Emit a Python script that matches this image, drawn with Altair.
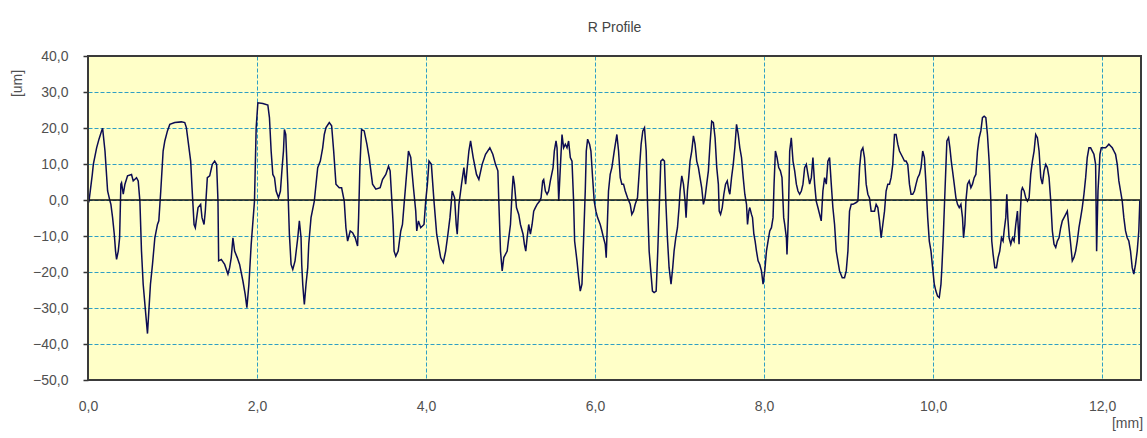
import altair as alt
import pandas as pd

# R profile trace: position along the evaluation length [mm] and height [um]
profile_mm = [
    0.000, 0.012, 0.051, 0.063, 0.102, 0.130, 0.161, 0.173, 0.201, 0.232, 0.260, 0.271, 0.291, 0.311,
    0.326, 0.338, 0.358, 0.374, 0.389, 0.397, 0.417, 0.437, 0.468, 0.515, 0.535, 0.574, 0.594, 0.614,
    0.633, 0.653, 0.680, 0.704, 0.720, 0.739, 0.763, 0.791, 0.822, 0.838, 0.861, 0.889, 0.909, 0.940,
    0.968, 1.027, 1.105, 1.145, 1.164, 1.215, 1.231, 1.255, 1.270, 1.302, 1.333, 1.349, 1.373, 1.388,
    1.412, 1.440, 1.471, 1.499, 1.522, 1.538, 1.546, 1.577, 1.617, 1.656, 1.676, 1.695, 1.715, 1.735,
    1.766, 1.794, 1.833, 1.860, 1.880, 1.904, 1.931, 1.970, 1.990, 2.010, 2.069, 2.128, 2.147, 2.167,
    2.187, 2.207, 2.226, 2.254, 2.277, 2.297, 2.313, 2.324, 2.340, 2.364, 2.383, 2.403, 2.423, 2.450,
    2.482, 2.501,
    2.521, 2.529, 2.541, 2.553, 2.560, 2.580, 2.600, 2.612, 2.639, 2.678, 2.698, 2.718, 2.749, 2.777,
    2.796, 2.816, 2.855, 2.883, 2.907, 2.934, 2.973, 3.001, 3.032, 3.052, 3.072, 3.103, 3.131, 3.162,
    3.190, 3.202, 3.217, 3.237, 3.268, 3.300, 3.327, 3.367, 3.406, 3.457, 3.485, 3.524, 3.556, 3.575,
    3.591, 3.611, 3.622, 3.642, 3.670, 3.701, 3.721, 3.740, 3.760, 3.792, 3.819, 3.851, 3.878, 3.890,
    3.910, 3.937, 3.976, 3.996, 4.016, 4.035, 4.063, 4.094, 4.126, 4.153, 4.173, 4.204, 4.232, 4.259,
    4.283, 4.310, 4.338, 4.357, 4.369, 4.389, 4.420, 4.448, 4.468, 4.507, 4.527, 4.558, 4.597, 4.625,
    4.664, 4.704, 4.755, 4.790, 4.822, 4.850, 4.861, 4.881, 4.901, 4.920, 4.960, 4.979,
    4.999, 5.019, 5.031, 5.046, 5.070, 5.097, 5.117, 5.148, 5.164, 5.180, 5.196, 5.215, 5.235, 5.255,
    5.274, 5.294, 5.314, 5.345, 5.361, 5.380, 5.392, 5.412, 5.432, 5.451, 5.471, 5.503, 5.518, 5.538,
    5.550, 5.570, 5.589, 5.609, 5.628, 5.648, 5.668, 5.687, 5.707, 5.727, 5.746, 5.758, 5.786, 5.806,
    5.825, 5.845, 5.865, 5.884, 5.896, 5.912, 5.935, 5.951, 5.971, 5.990, 6.010, 6.030, 6.061, 6.081,
    6.100, 6.120, 6.132, 6.148, 6.159, 6.179, 6.199, 6.227, 6.246, 6.258, 6.278, 6.298, 6.317, 6.337,
    6.357, 6.384, 6.416, 6.435, 6.455, 6.475, 6.502, 6.526, 6.545, 6.565, 6.585, 6.605, 6.620, 6.640,
    6.659, 6.679, 6.699, 6.723, 6.742, 6.762, 6.778, 6.801, 6.821, 6.837, 6.856, 6.876, 6.899, 6.919,
    6.935, 6.955, 6.975, 6.994, 7.006, 7.026, 7.046, 7.065, 7.077, 7.093, 7.108, 7.124, 7.144, 7.164,
    7.183, 7.203, 7.223, 7.242, 7.262, 7.282, 7.301, 7.321, 7.341, 7.360, 7.380, 7.400, 7.420, 7.440,
    7.459,
    7.469, 7.485, 7.505, 7.524, 7.544, 7.564, 7.584, 7.595, 7.615, 7.635, 7.654, 7.674, 7.694, 7.713,
    7.733, 7.753, 7.772, 7.792, 7.804, 7.820, 7.831, 7.851, 7.863, 7.879, 7.894, 7.910, 7.929, 7.949,
    7.969, 7.988, 8.008, 8.028, 8.047, 8.067, 8.087, 8.106, 8.118, 8.134, 8.153, 8.173, 8.193, 8.212,
    8.232, 8.244, 8.264, 8.271, 8.287, 8.303, 8.322, 8.342, 8.362, 8.382, 8.401, 8.421, 8.441, 8.460,
    8.480, 8.500, 8.519, 8.539, 8.559, 8.578, 8.598, 8.617, 8.637, 8.657, 8.676, 8.696, 8.716, 8.736,
    8.755, 8.775, 8.795, 8.814, 8.834, 8.854, 8.873, 8.893, 8.925, 8.952, 8.972, 8.992, 9.011, 9.031,
    9.051, 9.090, 9.110, 9.130, 9.149, 9.169, 9.188, 9.208, 9.228, 9.247, 9.267, 9.287, 9.307, 9.326,
    9.346, 9.366, 9.385, 9.405, 9.425, 9.444, 9.464, 9.484, 9.503, 9.523, 9.543, 9.562, 9.582, 9.602,
    9.621, 9.641, 9.661, 9.680, 9.700, 9.720, 9.739, 9.759, 9.779, 9.798, 9.818, 9.838, 9.857, 9.877,
    9.897, 9.916, 9.936,
    9.955, 9.975, 9.994, 10.014, 10.033, 10.053, 10.073, 10.093, 10.104, 10.120, 10.136, 10.151, 10.163,
    10.183, 10.199, 10.215, 10.230, 10.250, 10.270, 10.289, 10.309, 10.329, 10.348, 10.360, 10.376,
    10.388, 10.407, 10.427, 10.447, 10.466, 10.486, 10.506, 10.525, 10.545, 10.565, 10.584, 10.604,
    10.624, 10.643, 10.663, 10.683, 10.694, 10.710, 10.730, 10.750, 10.769, 10.789, 10.809, 10.828,
    10.840, 10.860, 10.872, 10.884, 10.899, 10.919, 10.939, 10.958, 10.978, 10.998, 11.017, 11.029,
    11.045, 11.057, 11.077, 11.096, 11.116, 11.136, 11.155, 11.175, 11.195, 11.214, 11.234, 11.254,
    11.274, 11.293, 11.313, 11.333, 11.352, 11.372, 11.392, 11.411, 11.431, 11.451, 11.470, 11.490,
    11.510, 11.529, 11.549, 11.569, 11.588, 11.608, 11.628, 11.647, 11.667, 11.687, 11.706, 11.726,
    11.746, 11.765, 11.785, 11.805, 11.824, 11.844, 11.864, 11.884, 11.903, 11.923, 11.935, 11.951,
    11.962, 11.974, 11.990, 12.021, 12.041, 12.061, 12.080, 12.100, 12.120, 12.139, 12.159, 12.179,
    12.198, 12.218, 12.238, 12.257, 12.277, 12.297, 12.316, 12.336, 12.356, 12.375, 12.395, 12.415,
    12.434, 12.446,
]

profile_um = [
    -1.0, -0.3, 7.1, 9.9, 14.5, 16.9, 19.2, 19.9, 13.6, 2.5, -0.3, -1.2, -4.9, -9.5,
    -14.2, -16.5, -14.2, -10.5, 4.4, 4.8, 1.6, 4.4, 6.7, 7.1, 5.3, 6.2, 5.3, -0.3,
    -14.2, -23.4, -30.8, -37.1, -30.8, -23.4, -17.9, -10.5, -6.8, -5.8, 2.5, 13.6, 16.4, 19.2,
    21.0, 21.5, 21.7, 21.5, 20.1, 10.8, 3.4, -6.8, -7.7, -2.1, -1.2, -4.9, -6.8, -3.1,
    6.2, 6.7, 9.9, 10.8, 9.9, -0.3, -16.9, -16.5, -17.9, -20.6, -18.8, -16.0, -10.5, -14.2,
    -16.0, -17.9, -22.5, -26.2, -29.9, -23.4, -12.3, -0.3, 20.1, 27.0, 26.8, 26.4, 22.9, 13.6,
    7.1, 6.2, 2.5, 0.6, 2.5, 9.0, 13.6, 19.6, 18.2, 4.4, -9.5, -17.9, -19.3, -16.9,
    -10.5, -5.8,
    -10.5, -17.9, -23.4, -27.1, -29.0, -23.4, -18.8, -12.3, -4.9, -0.3, 4.4, 9.0, 10.8, 14.5,
    18.2, 20.1, 21.5, 20.6, 13.6, 4.4, 3.4, 3.4, -0.3, -7.7, -11.4, -8.6, -9.1, -10.5,
    -12.8, -4.9, 9.0, 19.6, 19.2, 15.5, 11.8, 4.4, 3.0, 3.4, 5.7, 7.1, 9.4, 8.1,
    1.6, -6.8, -14.2, -15.6, -14.2, -8.6, -6.8, -1.2, 4.4, 13.6, 11.8, 3.4, -3.1, -8.6,
    -5.8, -7.7, -6.8, -0.3, 4.4, 10.8, 9.9, -0.3, -9.5, -13.2, -16.0, -17.4, -14.2, -9.5,
    -4.9, 2.5, 0.6, -6.8, -9.5, -1.2, 4.4, 9.0, 4.4, 13.6, 16.4, 11.8, 7.1, 5.7,
    9.9, 12.7, 14.5, 12.7, 9.9, 8.1, -0.3, -14.2, -19.7, -16.0, -14.2, -10.5,
    -6.8, 2.5, 6.7, 4.4, -2.1, -4.0, -6.8, -9.5, -12.3, -14.2, -10.5, -6.8, -9.5, -6.8,
    -3.1, -2.1, -1.2, -0.3, 0.6, 5.3, 5.7, 2.5, 1.6, 2.5, 5.3, 9.0, 13.6, 16.4,
    14.5, -0.3, 9.0, 18.2, 14.5, 15.5, 14.5, 16.4, 11.8, 10.8, -0.3, -11.4, -16.9, -21.6,
    -25.3, -23.4, -10.5, 2.5, 13.6, 16.9, 15.5, 13.6, 6.2, -0.3, -3.1, -4.9, -6.8, -8.6,
    -10.5, -12.3, -16.0, -4.9, 2.5, 7.1, 9.0, 13.6, 16.4, 18.2, 13.6, 6.2, 4.4, 4.4,
    2.5, 0.6, -1.2, -4.0, -3.1, -1.2, 0.6, 9.0, 15.5, 19.2, 20.1, 13.6, -0.3, -14.2,
    -19.7, -25.3, -25.7, -25.3, -14.2, -0.3, 10.8, 11.3, 10.8, -0.3, -10.5, -18.8, -23.4, -18.8,
    -14.2, -10.5, -7.7, -2.1, 2.5, 6.7, 4.4, -0.3, -4.9, 2.5, 6.2, 10.8, 13.6, 17.8,
    15.5, 10.8, 9.0, 6.2, 3.4, -1.2, 0.6, 4.4, 8.1, 15.5, 21.9, 21.5, 17.3, 9.0,
    4.4,
    -3.1, -4.0, -2.1, 1.6, 4.4, 5.3, 2.5, 1.6, 6.2, 9.9, 14.5, 21.0, 18.2, 14.5,
    11.8, 6.2, 1.6, -1.2, -6.8, -3.1, -2.1, -4.0, -4.9, -9.5, -11.4, -14.2, -16.9, -17.9,
    -19.7, -23.4, -19.7, -14.2, -11.4, -8.6, -7.7, -4.9, 4.4, 13.6, 11.8, 9.0, 8.1, 6.2,
    -4.9, -6.8, -10.5, -15.1, -4.9, 13.6, 17.3, 10.8, 8.1, 4.4, 2.5, 1.6, 2.5, 4.4,
    9.0, 9.9, 7.1, 4.4, 6.2, 11.8, 4.4, -0.3, -2.1, -4.0, -5.8, 2.5, 6.2, 4.4,
    10.8, 11.8, 4.4, -2.1, -6.8, -14.2, -16.9, -19.7, -21.6, -21.6, -19.7, -14.2, -3.1, -1.2,
    -1.2, -0.7, -0.3, 9.0, 13.6, 14.5, 11.8, 4.4, 1.6, 0.6, -3.1, -3.1, -3.1, -1.2,
    -2.1, -5.8, -10.5, -6.8, -3.1, 2.5, 4.4, 4.4, 6.2, 9.9, 18.2, 18.2, 15.5, 13.6,
    12.7, 11.8, 10.8, 10.8, 9.9, 4.4, 1.6, 1.6, 2.5, 4.4, 6.2, 7.1, 9.0, 13.6,
    11.8, 4.4, -4.9,
    -11.4, -14.2, -18.8, -23.4, -25.3, -26.7, -27.1, -23.4, -18.8, -10.5, -0.3, 9.0, 16.4,
    17.3, 14.5, 10.8, 8.1, 4.4, 0.6, -1.2, -2.1, -1.2, -4.9, -10.5, -6.8,
    -0.3, 4.4, 5.3, 3.4, 4.4, 6.2, 7.1, 13.6, 17.3, 19.2, 22.9, 23.3,
    22.9, 18.2, 10.8, -0.3, -11.4, -15.1, -18.8, -18.8, -16.0, -14.2, -10.5, -11.4,
    -8.6, -4.9, 1.6, -4.9, -10.5, -12.3, -10.5, -11.4, -6.8, -3.1, -12.3, -4.9,
    2.5, 3.4, 2.5, 0.6, -0.3, 0.6, 7.1, 10.8, 13.6, 18.2, 17.3, 13.6,
    6.2, 4.4, 8.1, 9.9, 9.0, 6.2, -0.3, -8.6, -12.3, -13.2, -11.4, -10.5,
    -7.7, -5.8, -4.9, -4.0, -3.1, -7.7, -12.3, -16.9, -16.0, -14.2, -11.4, -7.7,
    -4.9, -2.1, 1.6, 6.2, 11.8, 14.5, 14.5, 13.6, 12.7, 9.9, -14.2, 2.5,
    7.1, 12.7, 14.5, 14.5, 14.5, 15.0, 15.5, 15.0, 14.5, 13.6, 12.7, 9.9,
    5.3, 2.5, -0.3, -4.9, -8.6, -10.5, -11.4, -14.2, -18.8, -20.6, -17.9, -14.2,
    -8.6, -0.3,
]

x_ticks = [0, 2, 4, 6, 8, 10, 12]
y_ticks = [-50, -40, -30, -20, -10, 0, 10, 20, 30, 40]
x_range = [0, 12.46]
y_range = [-50, 40]
zero_level = [0]

W, H = 1053, 324
FONT = "Liberation Sans"
TEXT = "#505050"
GRID = "#2f9fc4"

df = pd.DataFrame({"mm": profile_mm, "um": profile_um})
df["i"] = range(len(df))

comma = "replace(format(datum.value, '.1f'), '.', ',')"
x_scale = alt.Scale(domain=x_range, nice=False, zero=False)
y_scale = alt.Scale(domain=y_range, nice=False, zero=False)

x_axis = alt.Axis(
    values=x_ticks, labelExpr=comma, title="[mm]",
    grid=True, gridColor=GRID, gridDash=[4, 2], gridWidth=1,
    ticks=False, domain=False, labelOverlap=False, labelFlush=False,
    labelFont=FONT, labelFontSize=14, labelColor=TEXT, labelPadding=19,
    titleFont=FONT, titleFontSize=14, titleFontWeight="normal", titleColor=TEXT,
    titleX=1039, titleY=43, titleAlign="center", titleBaseline="middle",
)
y_axis = alt.Axis(
    values=y_ticks, labelExpr=comma, title="[um]",
    grid=True, gridColor=GRID, gridDash=[4, 2], gridWidth=1,
    ticks=True, tickSize=5, tickColor="#333333", tickWidth=1.5, domain=False,
    labelOverlap=False, labelFlush=False,
    labelFont=FONT, labelFontSize=14, labelColor=TEXT, labelPadding=15,
    titleFont=FONT, titleFontSize=14, titleFontWeight="normal", titleColor=TEXT,
    titleAngle=270, titleX=-71, titleY=27, titleAlign="center", titleBaseline="middle",
)

profile = alt.Chart(df).mark_line(color="#0c0c52", strokeWidth=1.5).encode(
    x=alt.X("mm:Q", scale=x_scale, axis=x_axis),
    y=alt.Y("um:Q", scale=y_scale, axis=y_axis),
    order="i:Q",
)

# solid mean line at 0 um, sharing the profile's y axis
zero_line = alt.Chart(pd.DataFrame({"um": zero_level})).mark_rule(
    color="#111111", strokeWidth=1.5
).encode(y=alt.Y("um:Q", scale=y_scale, axis=y_axis))

frame = alt.Chart(pd.DataFrame({"a": [0]})).mark_rect(
    filled=False, stroke="#3a3a3a", strokeWidth=2
).encode(x=alt.value(0), x2=alt.value(W), y=alt.value(0), y2=alt.value(H))

chart = (
    alt.layer(profile, zero_line, frame)
    .properties(
        width=W,
        height=H,
        title=alt.TitleParams(
            "R Profile", font=FONT, fontSize=14, fontWeight="normal",
            color="#444444", anchor="middle", offset=14,
        ),
        autosize=alt.AutoSizeParams(type="none"),
        padding={"left": 88, "top": 56, "right": 6, "bottom": 58},
        background="white",
    )
    .configure_view(fill="#ffffc8", stroke=None)
)

chart.save("out.html", embed_options={"renderer": "svg", "actions": False})
